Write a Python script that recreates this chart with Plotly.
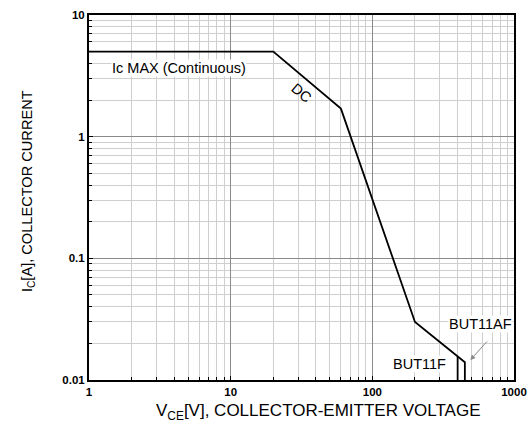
import math
import plotly.graph_objects as go

# SOA curve (DC) data
vce_dc = [1, 20, 60, 200, 450, 450]
ic_dc = [5, 5, 1.7, 0.03, 0.014, 0.01]

# BUT11F limit line
vce_f = [400, 400]
ic_f = [0.0156, 0.01]

x_tickvals = [1, 10, 100, 1000]
x_ticktext = ["1", "10", "100", "1000"]
y_tickvals = [0.01, 0.1, 1, 10]
y_ticktext = ["0.01", "0.1", "1", "10"]

FONT = "Liberation Sans, Arial, sans-serif"

fig = go.Figure()
fig.add_trace(go.Scatter(x=vce_dc, y=ic_dc, mode="lines",
                         line=dict(color="black", width=1.8), showlegend=False))
fig.add_trace(go.Scatter(x=vce_f, y=ic_f, mode="lines",
                         line=dict(color="black", width=1.8), showlegend=False))

axis_common = dict(
    type="log", showline=True, mirror=True, linecolor="black", linewidth=2,
    showgrid=True, gridcolor="#8a8a8a", gridwidth=1,
    ticks="inside", ticklen=4, tickcolor="black",
    tickfont=dict(family=FONT, size=11.5, color="black", weight="bold"),
    minor=dict(dtick="D1", showgrid=True, gridcolor="#cfcfcf", gridwidth=1,
               ticks="inside", ticklen=3, tickcolor="black"),
    zeroline=False, automargin=False,
)

fig.update_xaxes(range=[0, 3], tickmode="array", tickvals=x_tickvals,
                 ticktext=x_ticktext, **axis_common)
fig.update_yaxes(range=[-2, 1], tickmode="array", tickvals=y_tickvals,
                 ticktext=y_ticktext, **axis_common)

ann_font = dict(family=FONT, size=14.5, color="black")
fig.add_annotation(x=math.log10(4.34), y=math.log10(3.66), text="Ic MAX (Continuous)",
                   showarrow=False, font=ann_font, bgcolor="white", borderpad=0)
fig.add_annotation(x=1.502, y=0.359, text="DC", textangle=40,
                   showarrow=False, font=ann_font)
fig.add_annotation(x=2.761, y=-1.539, text="BUT11AF",
                   showarrow=False, font=ann_font, bgcolor="white", borderpad=0)
fig.add_annotation(x=2.335, y=-1.868, text="BUT11F",
                   showarrow=False, font=ann_font, bgcolor="white", borderpad=0)
fig.add_annotation(x=2.692, y=-1.835, ax=18, ay=-20, text="",
                   showarrow=True, arrowhead=2, arrowsize=1, arrowwidth=1,
                   arrowcolor="#888888")

fig.add_annotation(xref="paper", yref="paper", x=0.539, y=-0.123,
                   text="V<sub>CE</sub>[V], COLLECTOR-EMITTER VOLTAGE",
                   showarrow=False, font=dict(family=FONT, size=17, color="black"))
fig.add_annotation(xref="paper", yref="paper", x=-0.169, y=0.518, textangle=-90,
                   text="I<sub>C</sub>[A], COLLECTOR CURRENT",
                   showarrow=False, font=dict(family=FONT, size=14.6, color="black"))

fig.update_layout(
    width=528, height=439,
    margin=dict(l=88.5, r=13.5, t=15, b=59),
    plot_bgcolor="white", paper_bgcolor="white",
    showlegend=False,
)

fig.write_html("out.html", config={"displayModeBar": False},
               post_script="document.body.style.margin='0';document.body.style.overflow='hidden';")
